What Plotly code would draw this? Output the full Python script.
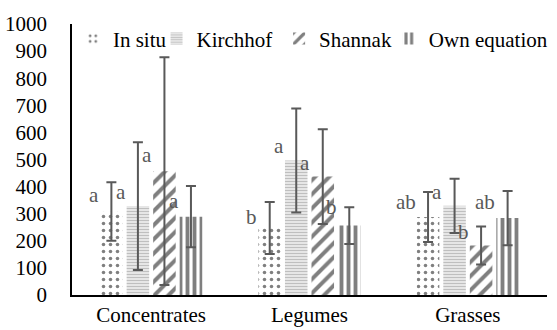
import plotly.graph_objects as go

categories = ["Concentrates", "Legumes", "Grasses"]
series_names = ["In situ", "Kirchhof", "Shannak", "Own equation"]
in_situ = [308, 247, 288]
in_situ_err = [108, 96, 92]
kirchhof = [328, 496, 329]
kirchhof_err = [236, 192, 100]
shannak = [457, 437, 183]
shannak_err = [420, 175, 70]
own_eq = [289, 256, 284]
own_eq_err = [113, 68, 100]
letters = [
    ["a", "b", "ab"],
    ["a", "a", "a"],
    ["a", "a", "b"],
    ["a", "b", "ab"],
]
letter_y = [
    [369, 288, 343],
    [380, 550, 380],
    [517, 487, 232],
    [347, 325, 343],
]

values = [in_situ, kirchhof, shannak, own_eq]
errors = [in_situ_err, kirchhof_err, shannak_err, own_eq_err]
patterns = [
    dict(shape=".", fgcolor="black", bgcolor="white", size=7, solidity=0.2),
    dict(shape="-", fgcolor="#808080", bgcolor="white", size=3, solidity=0.6),
    dict(shape="/", fgcolor="black", bgcolor="white", size=10, solidity=0.4),
    dict(shape="|", fgcolor="black", bgcolor="white", size=7, solidity=0.55),
]

FONT = "Liberation Serif"
FS = 21
ERR = "#595959"
legend_ids = ["legend", "legend2", "legend3", "legend4"]
legend_x = [0.002, 0.178, 0.436, 0.667]

fig = go.Figure()
for name, vals, errs, pat, lid in zip(series_names, values, errors, patterns, legend_ids):
    fig.add_trace(go.Bar(
        name=name, x=categories, y=vals, legend=lid,
        marker=dict(color="white", pattern=pat, line=dict(width=0)),
        error_y=dict(type="data", array=errs, visible=True, color=ERR,
                     thickness=2, width=5),
    ))

bargap = 0.33
bargroupgap = 0.15
n = len(series_names)
slot = (1 - bargap) / n
barw = slot * (1 - bargroupgap)
annotations = []
for i in range(n):
    for c in range(len(categories)):
        center = c - (1 - bargap) / 2 + slot * (i + 0.5)
        left = center - barw / 2
        annotations.append(dict(
            x=left, y=letter_y[i][c], xref="x", yref="y",
            text=letters[i][c], showarrow=False, xanchor="right", yanchor="middle",
            xshift=1, font=dict(family=FONT, size=FS, color=ERR),
        ))

legends = {}
for lid, lx in zip(legend_ids, legend_x):
    legends[lid] = dict(orientation="h", x=lx, xanchor="left", y=0.945, yanchor="middle",
                        bgcolor="rgba(0,0,0,0)", font=dict(family=FONT, size=FS),
                        itemwidth=30)

fig.update_layout(
    width=557, height=330,
    margin=dict(l=72, r=10, t=24, b=35, autoexpand=False),
    paper_bgcolor="white", plot_bgcolor="white",
    barmode="group", bargap=bargap, bargroupgap=bargroupgap,
    font=dict(family=FONT, size=FS, color="black"),
    showlegend=True,
    annotations=annotations,
    **legends,
)
fig.update_xaxes(showline=True, linecolor="black", linewidth=1.5, ticks="",
                 showgrid=False, tickfont=dict(family=FONT, size=FS))
fig.update_yaxes(range=[0, 1000], dtick=100, showline=True, linecolor="black",
                 linewidth=1.5, showgrid=False, zeroline=False, ticks="",
                 ticklabelstandoff=19, tickfont=dict(family=FONT, size=FS))

fig.write_html("out.html", config={"displayModeBar": False},
               post_script="document.body.style.margin='0';")
